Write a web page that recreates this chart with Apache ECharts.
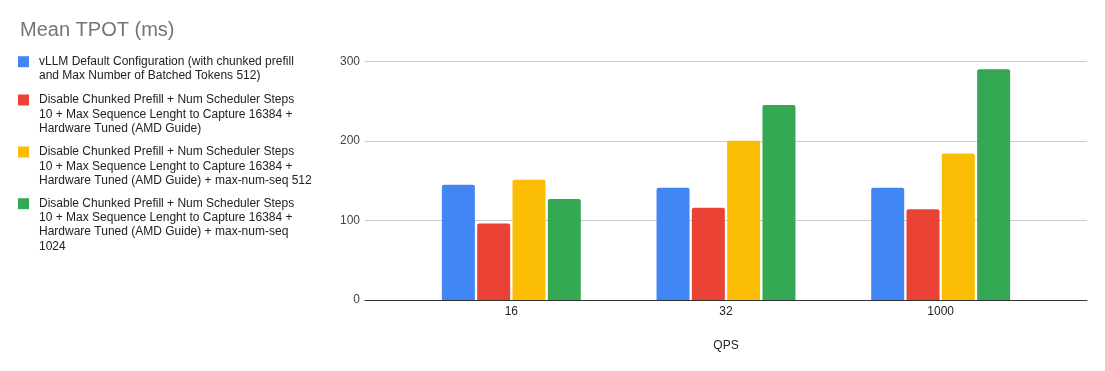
<!DOCTYPE html>
<html>
<head>
<meta charset="utf-8">
<script src="https://cdn.jsdelivr.net/npm/echarts@6/dist/echarts.min.js"></script>
<style>
html,body{margin:0;padding:0;background:#fff;}
#chart{width:1105px;height:371px;}
</style>
</head>
<body>
<div id="chart"></div>
<script>
const title = 'Mean TPOT (ms)';
const categories = ['16', '32', '1000'];
const xAxisName = 'QPS';
const yTicks = [0, 100, 200, 300];

const seriesNames = [
  'vLLM Default Configuration (with chunked prefill and Max Number of Batched Tokens 512)',
  'Disable Chunked Prefill + Num Scheduler Steps 10 + Max Sequence Lenght to Capture 16384 + Hardware Tuned (AMD Guide)',
  'Disable Chunked Prefill + Num Scheduler Steps 10 + Max Sequence Lenght to Capture 16384 + Hardware Tuned (AMD Guide) + max-num-seq 512',
  'Disable Chunked Prefill + Num Scheduler Steps 10 + Max Sequence Lenght to Capture 16384 + Hardware Tuned (AMD Guide) + max-num-seq 1024'
];
// legend label lines (as wrapped in the reference)
const legendLines = [
  ['vLLM Default Configuration (with chunked prefill', 'and Max Number of Batched Tokens 512)'],
  ['Disable Chunked Prefill + Num Scheduler Steps', '10 + Max Sequence Lenght to Capture 16384 +', 'Hardware Tuned (AMD Guide)'],
  ['Disable Chunked Prefill + Num Scheduler Steps', '10 + Max Sequence Lenght to Capture 16384 +', 'Hardware Tuned (AMD Guide) + max-num-seq 512'],
  ['Disable Chunked Prefill + Num Scheduler Steps', '10 + Max Sequence Lenght to Capture 16384 +', 'Hardware Tuned (AMD Guide) + max-num-seq', '1024']
];

const defaultConfig = [145, 141, 141];
const noChunkedPrefill = [96, 116, 114];
const maxNumSeq512 = [151, 200, 184];
const maxNumSeq1024 = [127, 245, 290];
const seriesValues = [defaultConfig, noChunkedPrefill, maxNumSeq512, maxNumSeq1024];

const colors = ['#4285F4', '#EA4335', '#FBBC04', '#34A853'];
const FONT = "'Liberation Sans', Arial, sans-serif";
const LH = 14.2;
const legendTops = [54.6, 92.9, 144.9, 196.6];

const chart = echarts.init(document.getElementById('chart'), null, {renderer: 'canvas'});

const legends = seriesNames.map((name, i) => {
  const n = legendLines[i].length;
  const H = +(LH * n).toFixed(2);
  const c = LH / 2;
  const icon = `path://M0,0L0,0M11,${H}L11,${H}M0,${(c - 5.5).toFixed(2)}H11V${(c + 5.5).toFixed(2)}H0Z`;
  return {
    data: [{name: name, icon: icon}],
    orient: 'vertical',
    left: 18,
    top: legendTops[i],
    padding: 0,
    itemWidth: 11,
    itemHeight: H,
    itemStyle: {borderWidth: 0},
    selectedMode: false,
    formatter: () => legendLines[i].join('\n'),
    textStyle: {
      fontFamily: FONT,
      fontSize: 12,
      color: '#222',
      lineHeight: LH,
      padding: [0, 0, 0, 5]
    }
  };
});

const option = {
  animation: false,
  backgroundColor: '#fff',
  title: {
    text: title,
    left: 20,
    top: 20,
    padding: 0,
    textStyle: {fontFamily: FONT, fontSize: 20, fontWeight: 'normal', color: '#757575'}
  },
  legend: legends,
  grid: [
    {left: 365, right: 18, top: 61.3, bottom: 71, containLabel: false},
    {left: 404, right: 57, top: 61.3, bottom: 71, containLabel: false}
  ],
  xAxis: [
    {
      gridIndex: 0,
      type: 'category',
      data: categories,
      z: 5,
      name: xAxisName,
      nameLocation: 'middle',
      nameGap: 40,
      nameTextStyle: {fontFamily: FONT, fontSize: 12, color: '#222'},
      axisLine: {show: true, lineStyle: {color: '#333', width: 1}},
      axisTick: {show: false},
      axisLabel: {show: false},
      splitLine: {show: false}
    },
    {
      gridIndex: 1,
      type: 'category',
      data: categories,
      axisLine: {show: false},
      axisTick: {show: false},
      axisLabel: {margin: 6, fontFamily: FONT, fontSize: 12, color: '#222'},
      splitLine: {show: false}
    }
  ],
  yAxis: [
    {
      gridIndex: 0,
      type: 'value',
      min: yTicks[0],
      max: yTicks[yTicks.length - 1],
      interval: yTicks[1] - yTicks[0],
      axisLine: {show: false},
      axisTick: {show: false},
      axisLabel: {margin: 5, fontFamily: FONT, fontSize: 12, color: '#444'},
      splitLine: {show: true, lineStyle: {color: '#cccccc', width: 1}}
    },
    {
      gridIndex: 1,
      type: 'value',
      min: yTicks[0],
      max: yTicks[yTicks.length - 1],
      show: false,
      splitLine: {show: false}
    }
  ],
  series: seriesNames.map((name, i) => ({
    name: name,
    type: 'bar',
    xAxisIndex: 1,
    yAxisIndex: 1,
    data: seriesValues[i],
    barWidth: 33,
    barGap: '7%',
    itemStyle: {color: colors[i], borderRadius: [2, 2, 0, 0]}
  }))
};

chart.setOption(option);
</script>
</body>
</html>
